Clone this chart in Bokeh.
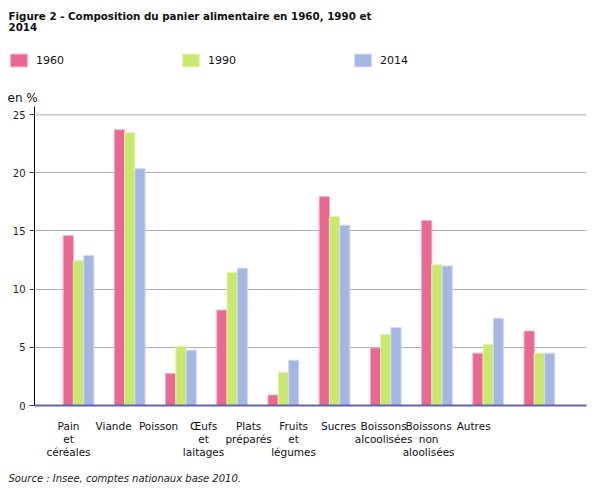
from bokeh.plotting import figure
from bokeh.layouts import column
from bokeh.models import (Range1d, FixedTicker, Label, Legend, LegendItem, Span,
                          ColumnDataSource)
from bokeh.embed import file_html
from bokeh.resources import INLINE

# ---- data ----
categories = ["Pain\net\ncéréales", "Viande", "Poisson", "Œufs\net\nlaitages",
              "Plats\npréparés", "Fruits\net\nlégumes", "Sucres",
              "Boissons\nalcoolisées", "Boissons\nnon\naloolisées", "Autres"]
years = ["1960", "1990", "2014"]
v1960 = [14.6, 23.7, 2.75, 8.2, 0.9, 17.95, 4.95, 15.9, 4.5, 6.4]
v1990 = [12.45, 23.45, 5.1, 11.45, 2.85, 16.25, 6.1, 12.1, 5.25, 4.5]
v2014 = [12.9, 20.35, 4.75, 11.8, 3.9, 15.5, 6.7, 12.0, 7.5, 4.5]
y_ticks = [0, 5, 10, 15, 20, 25]
title_lines = ["Figure 2 - Composition du panier alimentaire en 1960, 1990 et", "2014"]
unit_label = "en %"
source_text = "Source : Insee, comptes nationaux base 2010."

# ---- styles ----
fills = ["#e8688f", "#c8e86e", "#a5b6e4"]
edges = ["#f3aec4", "#e2f4b4", "#d2dbf3"]
FONT = "DejaVu Sans"
BAR_W = 0.2
LABEL_STEP = 0.879   # tick labels in the reference are spaced tighter than the bars
LABEL_SHIFT = -0.195
W = 595
LEFT, RIGHT = 34, 9
HEAD_H, MAIN_H, FOOT_H = 106, 359, 25


def blank(h):
    f = figure(width=W, height=h, output_backend="svg", toolbar_location=None,
               x_range=Range1d(0, W), y_range=Range1d(h, 0),
               x_axis_location=None, y_axis_location=None,
               min_border_left=0, min_border_right=0,
               min_border_top=0, min_border_bottom=0, frame_align=False)
    f.outline_line_color = None
    f.xgrid.visible = False
    f.ygrid.visible = False
    return f


# ---- header: title, legend, unit ----
head = blank(HEAD_H)
for j, t in enumerate(title_lines):
    head.add_layout(Label(x=8, y=9 + 13 * j, text=t, text_font=FONT,
                          text_font_style="bold", text_font_size="10.3px",
                          text_baseline="top", text_color="#111111"))
head.add_layout(Label(x=7, y=97, text=unit_label, text_font=FONT,
                      text_font_size="12px", text_baseline="middle",
                      text_color="#111111"))
leg_renderers = []
for fc, lc in zip(fills, edges):
    leg_renderers.append(head.vbar(x=[-1000], top=[0], width=1, fill_color=fc,
                                   line_color=lc, line_width=1))
legend = Legend(items=[LegendItem(label=y, renderers=[r])
                       for y, r in zip(years, leg_renderers)],
                orientation="horizontal", location=(8, HEAD_H - 68),
                glyph_width=21, glyph_height=16, label_height=16, label_standoff=7,
                label_width=144, spacing=0, padding=0, margin=0,
                border_line_color=None, background_fill_alpha=0,
                label_text_font=FONT, label_text_font_size="11px",
                label_text_color="#111111")
head.add_layout(legend)

# ---- main chart ----
n = len(categories)
idx = list(range(n))
p = figure(width=W, height=MAIN_H, output_backend="svg", toolbar_location=None,
           x_range=Range1d(-0.86, 9.92), y_range=Range1d(0, 25.7),
           min_border_left=LEFT, min_border_right=RIGHT, min_border_top=0,
           min_border_bottom=60, frame_align=False)
p.outline_line_color = None

for k, (vals, fc, lc) in enumerate(zip([v1960, v1990, v2014], fills, edges)):
    src = ColumnDataSource(dict(x=[i + (k - 1) * BAR_W for i in idx], top=vals))
    p.vbar(x="x", top="top", width=BAR_W, bottom=0, source=src,
           fill_color=fc, line_color=lc, line_width=1)

p.xgrid.visible = False
p.ygrid.ticker = FixedTicker(ticks=y_ticks[1:-1])
p.ygrid.grid_line_color = "#b0b0b0"
p.ygrid.grid_line_width = 1
p.add_layout(Span(location=y_ticks[-1], dimension="width", line_color="#cfcfcf",
                  line_width=2))

ya = p.yaxis[0]
ya.ticker = FixedTicker(ticks=y_ticks)
ya.axis_line_color = "black"
ya.axis_line_width = 1
ya.major_tick_out = 5
ya.major_tick_in = 0
ya.major_tick_line_color = "#444444"
ya.minor_tick_line_color = None
ya.major_label_text_font = FONT
ya.major_label_text_font_size = "10px"
ya.major_label_text_color = "#222222"
ya.major_label_standoff = 4

xa = p.xaxis[0]
label_pos = [round(LABEL_SHIFT + LABEL_STEP * i, 4) for i in idx]
xa.ticker = FixedTicker(ticks=label_pos)
xa.major_label_overrides = {pos: lab for pos, lab in zip(label_pos, categories)}
xa.axis_line_color = "#6464aa"
xa.axis_line_width = 2
xa.major_tick_line_color = None
xa.minor_tick_line_color = None
xa.major_label_text_font = FONT
xa.major_label_text_font_size = "10.5px"
xa.major_label_text_color = "#111111"
xa.major_label_standoff = 8
xa.major_label_text_line_height = 1.1

# ---- footer: source ----
foot = blank(FOOT_H)
foot.add_layout(Label(x=8, y=13, text=source_text, text_font=FONT,
                      text_font_size="10px", text_font_style="italic",
                      text_baseline="middle", text_color="#222222"))

layout = column(head, p, foot, spacing=0)
open("out.html", "w").write(file_html(layout, INLINE))
